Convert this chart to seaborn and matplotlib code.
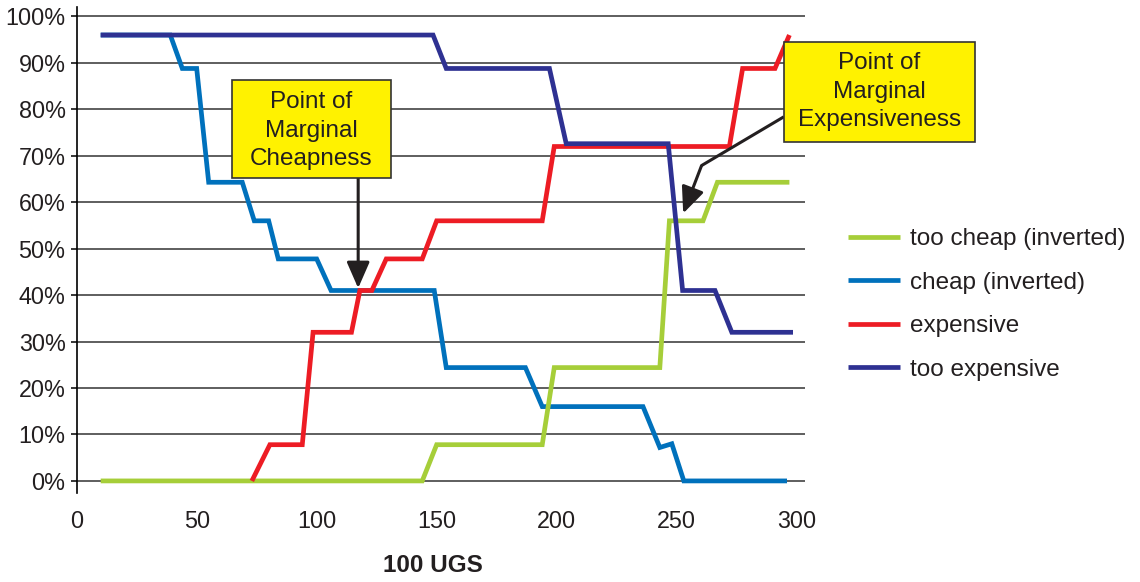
import numpy as np
import pandas as pd
import seaborn as sb
from matplotlib import pyplot as plt
from matplotlib.patches import Rectangle

# values: price (x) vs share of respondents in % (y)
too_cheap_x = [10, 144, 150, 194, 199, 243, 247, 261, 267, 297]
too_cheap_y = [0, 0, 7.8, 7.8, 24.4, 24.4, 56, 56, 64.3, 64.3]

cheap_x = [10, 39, 44, 50, 55, 69, 74, 80, 84, 100, 106, 149, 154, 187, 194, 236, 243, 248, 253, 296]
cheap_y = [96, 96, 88.8, 88.8, 64.3, 64.3, 56, 56, 47.8, 47.8, 41, 41, 24.4, 24.4, 16, 16, 7.2, 8, 0, 0]

expensive_x = [73, 80.5, 94, 98.5, 114.5, 118, 123, 129, 144, 150, 194, 199, 272, 277.5, 291, 297]
expensive_y = [0, 7.8, 7.8, 32, 32, 41, 41, 47.8, 47.8, 56, 56, 72.0, 72.0, 88.8, 88.8, 96]

too_expensive_x = [10, 148.5, 154, 197, 204, 246.5, 252.5, 266, 273, 298.5]
too_expensive_y = [96, 96, 88.8, 88.8, 72.6, 72.6, 41, 41, 32, 32]

series_names = ["too cheap (inverted)", "cheap (inverted)", "expensive", "too expensive"]
series_colors = ["#A6CE39", "#0071BC", "#ED1C24", "#2E3192"]
draw_order = [1, 0, 2, 3]  # which line sits on top of which

y_ticks = list(range(0, 101, 10))
y_labels = [str(v) + "%" for v in y_ticks]
x_ticks = [0, 50, 100, 150, 200, 250, 300]

text_color = "#231F20"

sb.set_theme(style="white")
plt.rcParams['font.family'] = ['Liberation Sans', 'DejaVu Sans']

frames = []
for name, xs, ys in zip(series_names,
                        [too_cheap_x, cheap_x, expensive_x, too_expensive_x],
                        [too_cheap_y, cheap_y, expensive_y, too_expensive_y]):
    frames.append(pd.DataFrame({"price": xs, "share": ys, "series": name}))
df = pd.concat(frames, ignore_index=True)

fig = plt.figure(figsize=(11.4, 5.82), dpi=100)
ax = fig.add_axes([76.7 / 1140, 1 - 493 / 582, (805 - 76.7) / 1140, (493 - 6.7) / 582])

for i in draw_order:
    name = series_names[i]
    sb.lineplot(data=df[df.series == name], x="price", y="share", color=series_colors[i],
                lw=3.4, sort=False, estimator=None, ax=ax, label=name,
                solid_capstyle="butt", solid_joinstyle="miter")

ax.set_xlim(0, 303.5)
ax.set_ylim(-2.6, 102.1)
ax.set_yticks(y_ticks)
ax.set_yticklabels(y_labels)
ax.set_xticks(x_ticks)
ax.yaxis.grid(True, color="#333333", lw=1.1)
ax.xaxis.grid(False)
ax.set_axisbelow(True)
for side in ["top", "right", "bottom"]:
    ax.spines[side].set_visible(False)
ax.spines["left"].set_color("black")
ax.spines["left"].set_linewidth(1.2)
ax.tick_params(axis="y", left=True, length=4, width=1.1, color="black", pad=4,
               labelsize=16.8, labelcolor=text_color)
ax.tick_params(axis="x", bottom=False, length=0, pad=12, labelsize=16.8, labelcolor=text_color)

ax.set_ylabel("")
ax.set_xlabel("100 UGS", fontsize=17.5, fontweight="bold", color=text_color)
ax.xaxis.set_label_coords(0.489, -0.125)

# callout boxes
arrow_props = dict(arrowstyle="-|>,head_length=0.8,head_width=0.35", color=text_color,
                   lw=2.2, mutation_scale=20, shrinkA=0, shrinkB=0)

ax.add_patch(Rectangle((64.7, 65.2), 66.3, 21.1, facecolor="#FFF200", edgecolor="#333333",
                       lw=1.2, zorder=5, clip_on=False))
ax.text(97.85, 75.4, "Point of\nMarginal\nCheapness", ha="center", va="center",
        fontsize=17.5, color=text_color, zorder=6, linespacing=1.38)
ax.annotate("", xy=(117.3, 41.5), xytext=(117.3, 65.2), arrowprops=arrow_props, zorder=4)

ax.add_patch(Rectangle((294.7, 73.0), 79.6, 21.5, facecolor="#FFF200", edgecolor="#333333",
                       lw=1.2, zorder=5, clip_on=False))
ax.text(334.5, 83.75, "Point of\nMarginal\nExpensiveness", ha="center", va="center",
        fontsize=17.5, color=text_color, zorder=6, linespacing=1.38, clip_on=False)
ax.plot([294.7, 260.4], [78.4, 67.9], color=text_color, lw=2.2, zorder=4, clip_on=False,
        solid_capstyle="butt")
ax.annotate("", xy=(252.75, 57.6), xytext=(260.4, 67.9), arrowprops=arrow_props, zorder=4)

handles, labels = ax.get_legend_handles_labels()
lookup = dict(zip(labels, handles))
ax.legend([lookup[n] for n in series_names], series_names, loc="center left",
          bbox_to_anchor=(848 / 1140, 1 - 304.5 / 582), bbox_transform=fig.transFigure,
          frameon=False, fontsize=17.5, handlelength=2.15, handletextpad=0.42,
          labelspacing=0.88, borderpad=0, borderaxespad=0, labelcolor=text_color)

fig.savefig("out.png", dpi=100)
